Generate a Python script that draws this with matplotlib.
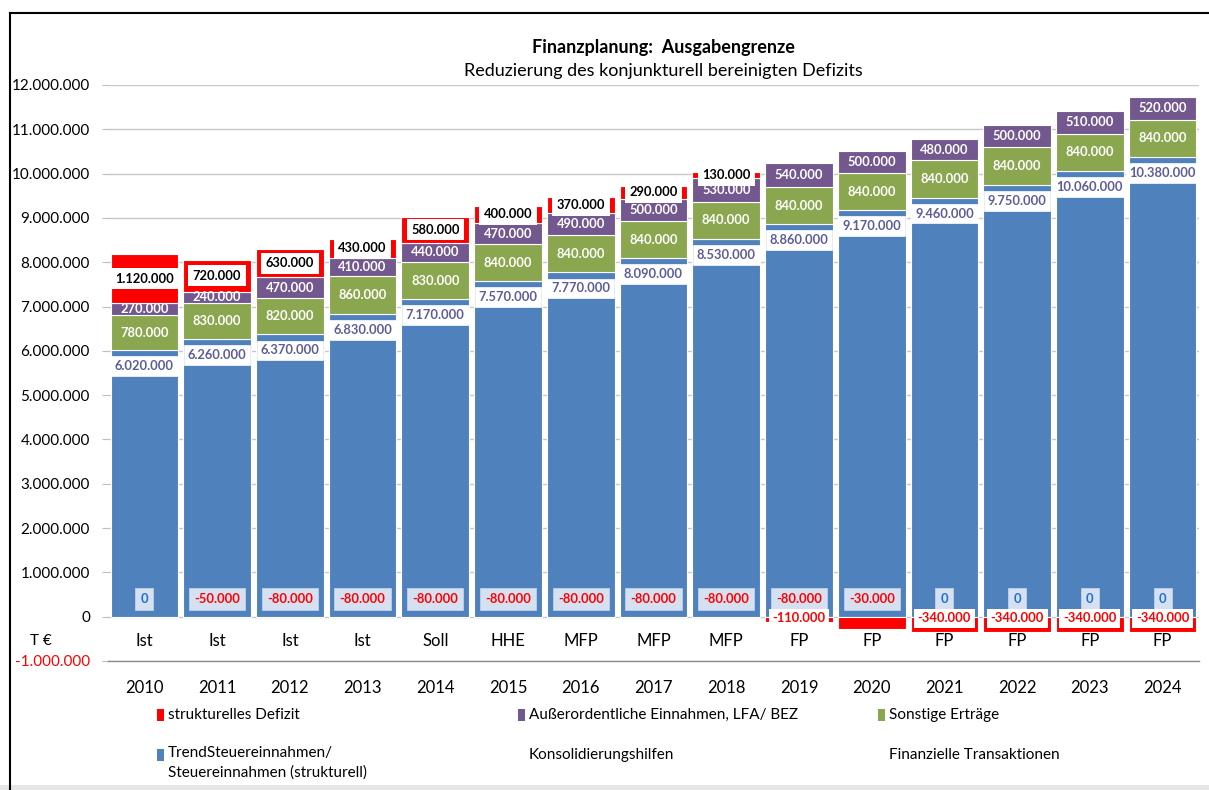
import matplotlib
matplotlib.use('Agg')
import matplotlib.pyplot as plt
from matplotlib.lines import Line2D
from matplotlib.patches import Rectangle
import numpy as np

plt.rcParams['font.family'] = ['Lato', 'DejaVu Sans']

# ---------------- data ----------------
years = ['2010', '2011', '2012', '2013', '2014', '2015', '2016', '2017',
         '2018', '2019', '2020', '2021', '2022', '2023', '2024']
stages = ['Ist', 'Ist', 'Ist', 'Ist', 'Soll', 'HHE', 'MFP', 'MFP', 'MFP',
          'FP', 'FP', 'FP', 'FP', 'FP', 'FP']
trend_steuer = [6020000, 6260000, 6370000, 6830000, 7170000, 7570000, 7770000,
                8090000, 8530000, 8860000, 9170000, 9460000, 9750000, 10060000,
                10380000]
sonstige = [780000, 830000, 820000, 860000, 830000, 840000, 840000, 840000,
            840000, 840000, 840000, 840000, 840000, 840000, 840000]
ausserordentlich = [270000, 240000, 470000, 410000, 440000, 470000, 490000,
                    500000, 530000, 540000, 500000, 480000, 500000, 510000,
                    520000]
defizit = [1120000, 720000, 630000, 430000, 580000, 400000, 370000, 290000,
           130000, -110000, -280000, -340000, -340000, -340000, -340000]
defizit_labelled = [True, True, True, True, True, True, True, True, True,
                    True, False, True, True, True, True]
konsolidierung = [0, -50000, -80000, -80000, -80000, -80000, -80000, -80000,
                  -80000, -80000, -30000, 0, 0, 0, 0]
legend_labels = ['strukturelles Defizit', 'Außerordentliche Einnahmen, LFA/ BEZ',
                 'Sonstige Erträge',
                 'TrendSteuereinnahmen/\nSteuereinnahmen (strukturell)',
                 'Konsolidierungshilfen', 'Finanzielle Transaktionen']
title = 'Finanzplanung:  Ausgabengrenze'
subtitle = 'Reduzierung des konjunkturell bereinigten Defizits'

# ---------------- style ----------------
BLUE = '#4F81BD'
GREEN = '#8AA64E'
PURPLE = '#73588F'
RED = '#FF0000'
BLUE_TXT = '#5C5C98'


def de(v):
    return f'{int(v):,}'.replace(',', '.')


W, H = 1209, 790
fig = plt.figure(figsize=(W / 100, H / 100), dpi=100)
L, R, T, B = 108, 1199, 85, 661
ax = fig.add_axes([L / W, 1 - B / H, (R - L) / W, (B - T) / H])

x = np.arange(len(years))
blue = np.array(trend_steuer, float)
green = np.array(sonstige, float)
purple = np.array(ausserordentlich, float)
red = np.array(defizit, float)
kons = np.array(konsolidierung, float)

bw = 0.93
ekw = dict(edgecolor='white', linewidth=0.8, zorder=2)
ax.bar(x, blue, width=bw, color=BLUE, **ekw)
ax.bar(x, green, bottom=blue, width=bw, color=GREEN, **ekw)
b2 = blue + green
ax.bar(x, purple, bottom=b2, width=bw, color=PURPLE, **ekw)
b3 = b2 + purple
red_bottom = np.where(red > 0, b3, 0)
ax.bar(x, red, bottom=red_bottom, width=bw, color=RED, **ekw)

ax.set_xlim(-0.5, len(years) - 0.5)
ax.set_ylim(-1000000, 12000000)
yt = np.arange(-1000000, 12000001, 1000000)
ax.set_yticks(yt)
ax.set_yticklabels([de(v) for v in yt], fontsize=11)
for lab, v in zip(ax.get_yticklabels(), yt):
    lab.set_color(RED if v < 0 else '#000000')
ax.tick_params(axis='y', length=4, color='#BFBFBF', pad=9)
ax.set_xticks(x)
ax.set_xticklabels(years, fontsize=12)
ax.tick_params(axis='x', length=0, pad=14)
ax.yaxis.grid(True, color='#C8C8C8', linewidth=1)
ax.set_axisbelow(True)
for s in ['left', 'right', 'top']:
    ax.spines[s].set_visible(False)
ax.spines['bottom'].set_color('#8C8C8C')
ax.spines['bottom'].set_linewidth(1)

# stage labels
for i, s in enumerate(stages):
    ax.text(i, -540000, s, ha='center', va='center', fontsize=12, zorder=5)

fs = 9.3
# blue labels: inside end
for i in x:
    ax.annotate(de(blue[i]), (i, blue[i]), xytext=(0, -11.5),
                textcoords='offset points', ha='center', va='center',
                fontsize=fs, fontweight='bold', color=BLUE_TXT, zorder=6,
                bbox=dict(boxstyle='square,pad=0.3', fc='white', ec='white', lw=0.5))
# green / purple centered
for i in x:
    ax.text(i, blue[i] + green[i] / 2, de(green[i]), ha='center', va='center',
            fontsize=fs, fontweight='bold', color='white', zorder=6)
    ax.text(i, b2[i] + purple[i] / 2, de(purple[i]), ha='center', va='center',
            fontsize=fs, fontweight='bold', color='white', zorder=6)
# deficit labels
for i in x:
    if not defizit_labelled[i]:
        continue
    if red[i] > 0:
        ax.text(i, b3[i] + red[i] / 2, de(red[i]), ha='center', va='center',
                fontsize=fs, fontweight='bold', color='black', zorder=6,
                bbox=dict(boxstyle='square,pad=0.35', fc='white', ec='none'))
    else:
        ax.text(i, -40000, de(red[i]), ha='center', va='center',
                fontsize=fs, fontweight='bold', color=RED, zorder=7,
                bbox=dict(boxstyle='square,pad=0.3', fc='white', ec='none'))
# Konsolidierungshilfen labels
for i in x:
    col = RED if kons[i] < 0 else '#1F6FD6'
    ax.text(i, 400000, de(kons[i]), ha='center', va='center',
            fontsize=fs, fontweight='bold', color=col, zorder=6,
            bbox=dict(boxstyle='square,pad=0.4', fc='#D5E0F1', ec='#C0D0E8', lw=0.6))

# unit label
fig.text(41 / W, 1 - 641 / H, 'T €', ha='center', va='center', fontsize=11)

# titles
fig.text(663 / W, 1 - 47 / H, title, ha='center', va='center',
         fontsize=13, fontweight='bold')
fig.text(663 / W, 1 - 71 / H, subtitle, ha='center', va='center', fontsize=13)

# legend (manual)
leg_colors = [RED, PURPLE, GREEN, BLUE, None, None]
leg_pos = [(157, 715), (518, 715), (878, 715), (157, 755), (518, 755), (878, 755)]
for lab, col, (px, py) in zip(legend_labels, leg_colors, leg_pos):
    if col is not None:
        fig.add_artist(Rectangle((px / W, 1 - (py + 6) / H), 7 / W, 12 / H,
                                 transform=fig.transFigure, color=col, lw=0))
    if '\n' in lab:
        fig.text((px + 11) / W, 1 - (py - 9) / H, lab, ha='left', va='top',
                 fontsize=11, linespacing=1.5)
    else:
        fig.text((px + 11) / W, 1 - py / H, lab, ha='left', va='center',
                 fontsize=11)

# chart frame
fig.add_artist(Line2D([10 / W, 10 / W], [1 - 13 / H, 0], transform=fig.transFigure,
                      color='black', lw=1.5))
fig.add_artist(Line2D([10 / W, 1], [1 - 13 / H, 1 - 13 / H], transform=fig.transFigure,
                      color='black', lw=1.5))
fig.add_artist(Rectangle((0, 0), 1, 5 / H, transform=fig.transFigure,
                         color='#E6E6E6', lw=0))

fig.savefig('out.png', dpi=100)
